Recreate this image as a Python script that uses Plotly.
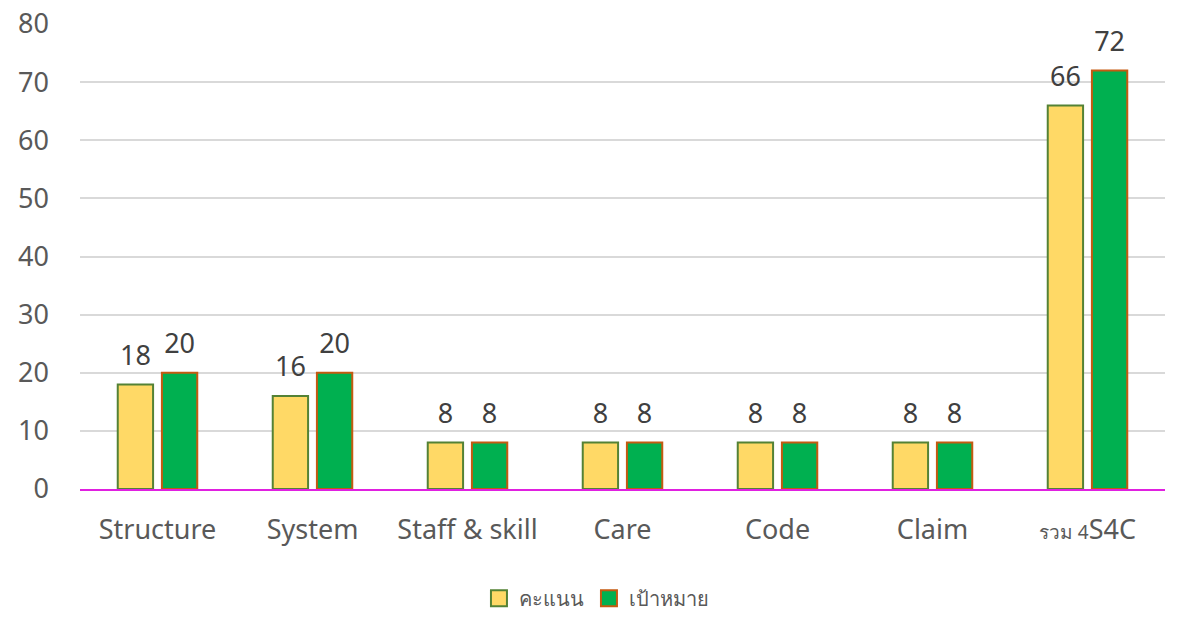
import plotly.graph_objects as go

categories = ["Structure", "System", "Staff & skill", "Care", "Code", "Claim", "รวม 4S4C"]
tick_labels = ["Structure", "System", "Staff & skill", "Care", "Code", "Claim",
               "<span style='font-size:19px'>รวม 4</span>S4C"]
score = [18, 16, 8, 8, 8, 8, 66]
target = [20, 20, 8, 8, 8, 8, 72]
series_names = ["คะแนน", "เป้าหมาย"]
fills = ["#FFD966", "#00B050"]
edges = ["#548235", "#C55A11"]

font_family = "Noto Sans, 'Open Sans', sans-serif"
pad = "<sub><span style='font-size:38px'>&nbsp;</span></sub>"
label_template = pad + "%{y}" + pad

fig = go.Figure()
for vals, name, fc, ec in zip([score, target], series_names, fills, edges):
    fig.add_trace(go.Bar(
        x=categories, y=vals, name=name, showlegend=False,
        marker=dict(color=fc, line=dict(color=ec, width=2)),
        texttemplate=label_template, textposition="outside", cliponaxis=False,
        constraintext="none",
        textfont=dict(size=27, color="#404040", family=font_family),
    ))
# legend entries (square swatches)
for name, fc, ec in zip(series_names, fills, edges):
    fig.add_trace(go.Scatter(
        x=[None], y=[None], mode="markers", name=name,
        marker=dict(symbol="square", size=17, color=fc, line=dict(color=ec, width=2)),
    ))

fig.update_layout(
    width=1162, height=604,
    margin=dict(l=72, r=5, t=16, b=123, autoexpand=False),
    paper_bgcolor="white", plot_bgcolor="white",
    barmode="group", bargap=0.43, bargroupgap=0.2,
    font=dict(family=font_family, color="#595959", size=27),
    showlegend=True,
    legend=dict(orientation="h", x=0.476, xanchor="center", y=-0.235, yanchor="middle",
                font=dict(size=20, color="#595959"), itemwidth=30, traceorder="normal",
                itemsizing="trace"),
)
fig.update_xaxes(
    tickmode="array", tickvals=categories, ticktext=tick_labels, automargin=False,
    showline=True, linecolor="#E020E0", linewidth=2, showgrid=False,
    ticks="", ticklabelstandoff=16, tickfont=dict(size=27, color="#595959"),
)
fig.update_yaxes(
    range=[0, 80], dtick=10, showgrid=True, gridcolor="#D9D9D9", gridwidth=1.5,
    zeroline=False, showline=False, ticks="", ticklabelstandoff=30, automargin=False,
    ticklabeloverflow="allow",
    tickfont=dict(size=27, color="#595959"),
)

fig.write_html("out.html")
